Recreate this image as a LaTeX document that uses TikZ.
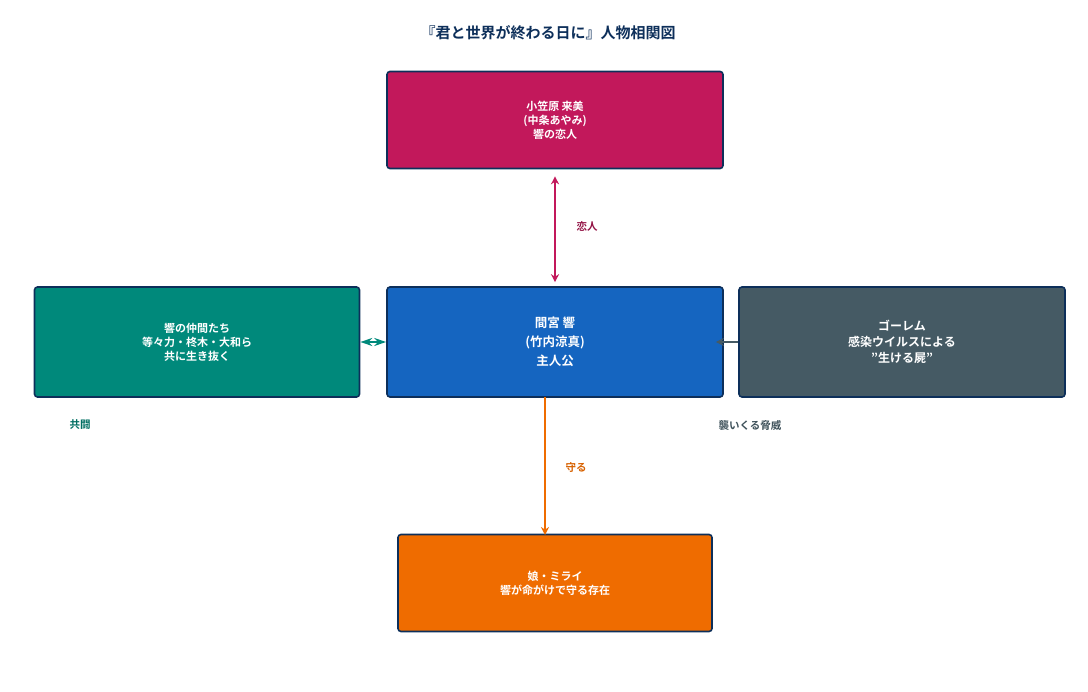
\documentclass[tikz,border=0pt]{standalone}
\usepackage{fontspec}
\setmainfont{Noto Sans CJK JP}[BoldFont={* Bold}]
\usetikzlibrary{arrows.meta}
\definecolor{edgenavy}{HTML}{0D2F5A}
\definecolor{lovered}{HTML}{C2185B}
\definecolor{heroblue}{HTML}{1565C0}
\definecolor{allygreen}{HTML}{00897B}
\definecolor{foegray}{HTML}{455A64}
\definecolor{kidorange}{HTML}{EF6C00}
\tikzset{
  person/.style={draw=edgenavy, line width=1.6pt, rounded corners=3pt, text=white,
    font=\bfseries\fontsize{11}{14}\selectfont, align=center, inner sep=0pt},
  tag/.style={font=\bfseries\fontsize{10.5}{12}\selectfont},
  link/.style={line width=1.6pt, -{Stealth[length=8pt,width=8pt]}}
}
\begin{document}
\begin{tikzpicture}[x=1pt,y=-1pt]
        \useasboundingbox (0,0) rectangle (1088,692);
        \node[font=\bfseries\fontsize{15}{18}\selectfont, text=edgenavy] (title) at (548,33) {『君と世界が終わる日に』人物相関図};
        \node[person, fill=lovered, minimum width=336pt, minimum height=97pt] (kurumi) at (555,120) {小笠原 来美\\(中条あやみ)\\響の恋人};
        \node[person, fill=heroblue, minimum width=336pt, minimum height=110pt, font=\bfseries\fontsize{12.5}{19}\selectfont] (hibiki) at (555,342) {間宮 響\\(竹内涼真)\\主人公};
        \node[person, fill=allygreen, minimum width=325pt, minimum height=110pt] (allies) at (197,342) {響の仲間たち\\等々力・柊木・大和ら\\共に生き抜く};
        \node[person, fill=foegray, minimum width=326pt, minimum height=110pt, font=\bfseries\fontsize{12}{16}\selectfont] (golem) at (902,342) {ゴーレム\\感染ウイルスによる\\"生ける屍"};
        \node[person, fill=kidorange, minimum width=314pt, minimum height=97pt] (mirai) at (555,583) {娘・ミライ\\響が命がけで守る存在};
        \coordinate (hibikiS) at (545,397);
        \coordinate (miraiN) at (545,535);
        \draw[link, {Stealth[length=8pt,width=8pt]}-{Stealth[length=8pt,width=8pt]}, lovered] ([yshift=-7pt]kurumi.south) -- ([yshift=4pt]hibiki.north);
        \draw[link, kidorange] (hibikiS) -- (miraiN);
        \draw[link, {Stealth[length=12pt,width=8pt]}-{Stealth[length=12pt,width=8pt]}, allygreen] (allies.east) -- (hibiki.west);
        \draw[link, foegray] (golem.west) -- ([xshift=-8pt]hibiki.east);
        \node[tag, text=lovered!75!black] (lovetag) at (587,226) {恋人};
        \node[tag, text=kidorange!90!black] (guardtag) at (576,468) {守る};
        \node[tag, text=allygreen!80!black] (allytag) at (80,425) {共闘};
        \node[tag, text=foegray!90!black] (foetag) at (750,425) {襲いくる脅威};
      \end{tikzpicture}
\end{document}
